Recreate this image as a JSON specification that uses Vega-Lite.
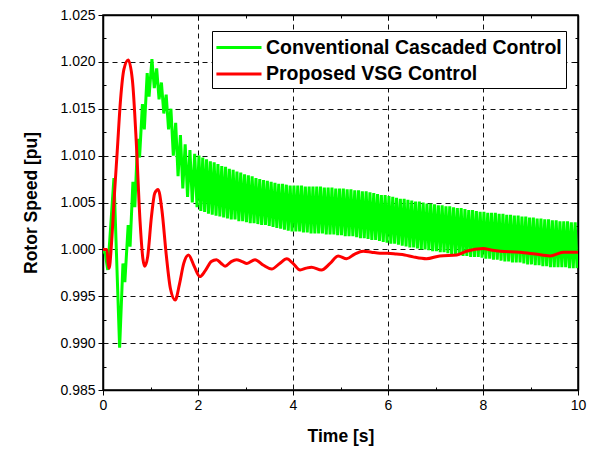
{
"$schema": "https://vega.github.io/schema/vega-lite/v6.json",
"width": 475, "height": 375,
"autosize": "none",
"padding": {"left": 103, "top": 15, "right": 17, "bottom": 64},
"background": "white",
"config": {"font": "Liberation Sans", "view": {"stroke": "black", "strokeWidth": 1.5}},
"datasets": {
"green": [
{"t":0,"v":1.0},{"t":0.05,"v":0.9995},{"t":0.1,"v":0.9978},{"t":0.23,"v":1.0076},{"t":0.35,"v":0.9895},
{"t":0.42,"v":0.9985},{"t":0.46,"v":0.9965},{"t":0.53,"v":1.0026},{"t":0.57,"v":1.0003},{"t":0.63,"v":1.0072},{"t":0.67,"v":1.0045},
{"t":0.73,"v":1.0118},{"t":0.77,"v":1.0098},{"t":0.83,"v":1.0155},{"t":0.87,"v":1.0128},{"t":0.93,"v":1.0188},{"t":0.97,"v":1.0163},
{"t":1.03,"v":1.0203},{"t":1.08,"v":1.0172},{"t":1.13,"v":1.0193},{"t":1.18,"v":1.016},{"t":1.23,"v":1.0178},{"t":1.28,"v":1.0145},
{"t":1.33,"v":1.0165},{"t":1.38,"v":1.0128},{"t":1.43,"v":1.015},{"t":1.48,"v":1.01},{"t":1.53,"v":1.0135},{"t":1.58,"v":1.0078},
{"t":1.63,"v":1.0122},{"t":1.68,"v":1.0065},{"t":1.73,"v":1.0112},{"t":1.78,"v":1.0056},{"t":1.83,"v":1.0106},{"t":1.88,"v":1.005},
{"t":1.93,"v":1.0102},{"t":1.98,"v":1.0045},
{"t":2.02,"v":1.01},{"t":2.06,"v":1.0041},{"t":2.1,"v":1.0098},{"t":2.14,"v":1.004},{"t":2.18,"v":1.0096},{"t":2.22,"v":1.0038},
{"t":2.26,"v":1.0094},{"t":2.3,"v":1.0037},{"t":2.34,"v":1.0093},{"t":2.38,"v":1.0036},{"t":2.42,"v":1.0091},{"t":2.46,"v":1.0035},
{"t":2.5,"v":1.0089},{"t":2.54,"v":1.0034},{"t":2.58,"v":1.0088},{"t":2.62,"v":1.0033},{"t":2.66,"v":1.0086},{"t":2.7,"v":1.0032},
{"t":2.74,"v":1.0085},{"t":2.78,"v":1.0032},{"t":2.82,"v":1.0083},{"t":2.86,"v":1.003},{"t":2.9,"v":1.0082},{"t":2.94,"v":1.003},
{"t":2.98,"v":1.008},{"t":3.02,"v":1.0029},{"t":3.06,"v":1.0079},{"t":3.1,"v":1.0028},{"t":3.14,"v":1.0078},{"t":3.18,"v":1.0028},
{"t":3.22,"v":1.0076},{"t":3.26,"v":1.0027},{"t":3.3,"v":1.0075},{"t":3.34,"v":1.0026},{"t":3.38,"v":1.0074},{"t":3.42,"v":1.0026},
{"t":3.46,"v":1.0073},{"t":3.5,"v":1.0025},{"t":3.54,"v":1.0072},{"t":3.58,"v":1.0024},{"t":3.62,"v":1.0071},{"t":3.66,"v":1.0023},
{"t":3.7,"v":1.007},{"t":3.74,"v":1.0022},{"t":3.78,"v":1.007},{"t":3.82,"v":1.0021},{"t":3.86,"v":1.0069},{"t":3.9,"v":1.002},
{"t":3.94,"v":1.0068},{"t":3.98,"v":1.0019},{"t":4.02,"v":1.0068},{"t":4.06,"v":1.0019},{"t":4.1,"v":1.0068},{"t":4.14,"v":1.0019},
{"t":4.18,"v":1.0068},{"t":4.22,"v":1.0018},{"t":4.26,"v":1.0067},{"t":4.3,"v":1.0018},{"t":4.34,"v":1.0067},{"t":4.38,"v":1.0017},
{"t":4.42,"v":1.0067},{"t":4.46,"v":1.0017},{"t":4.5,"v":1.0067},{"t":4.54,"v":1.0017},{"t":4.58,"v":1.0067},{"t":4.62,"v":1.0017},
{"t":4.66,"v":1.0066},{"t":4.7,"v":1.0016},{"t":4.74,"v":1.0066},{"t":4.78,"v":1.0016},{"t":4.82,"v":1.0066},{"t":4.86,"v":1.0016},
{"t":4.9,"v":1.0065},{"t":4.94,"v":1.0015},{"t":4.98,"v":1.0065},{"t":5.02,"v":1.0015},{"t":5.06,"v":1.0065},{"t":5.1,"v":1.0014},
{"t":5.14,"v":1.0064},{"t":5.18,"v":1.0014},{"t":5.22,"v":1.0064},{"t":5.26,"v":1.0014},{"t":5.3,"v":1.0063},{"t":5.34,"v":1.0013},
{"t":5.38,"v":1.0063},{"t":5.42,"v":1.0012},{"t":5.46,"v":1.0062},{"t":5.5,"v":1.0012},{"t":5.54,"v":1.0062},{"t":5.58,"v":1.0011},
{"t":5.62,"v":1.0061},{"t":5.66,"v":1.001},{"t":5.7,"v":1.006},{"t":5.74,"v":1.001},{"t":5.78,"v":1.0059},{"t":5.82,"v":1.0009},
{"t":5.86,"v":1.0058},{"t":5.9,"v":1.0008},{"t":5.94,"v":1.0058},{"t":5.98,"v":1.0007},{"t":6.02,"v":1.0057},{"t":6.06,"v":1.0006},
{"t":6.1,"v":1.0056},{"t":6.14,"v":1.0006},{"t":6.18,"v":1.0055},{"t":6.22,"v":1.0005},{"t":6.26,"v":1.0054},{"t":6.3,"v":1.0004},
{"t":6.34,"v":1.0054},{"t":6.38,"v":1.0003},{"t":6.42,"v":1.0053},{"t":6.46,"v":1.0002},{"t":6.5,"v":1.0052},{"t":6.54,"v":1.0002},
{"t":6.58,"v":1.0051},{"t":6.62,"v":1.0001},{"t":6.66,"v":1.0051},{"t":6.7,"v":1.0},{"t":6.74,"v":1.005},{"t":6.78,"v":1.0},
{"t":6.82,"v":1.0049},{"t":6.86,"v":0.9999},{"t":6.9,"v":1.0049},{"t":6.94,"v":0.9998},{"t":6.98,"v":1.0048},{"t":7.02,"v":0.9998},
{"t":7.06,"v":1.0047},{"t":7.1,"v":0.9997},{"t":7.14,"v":1.0047},{"t":7.18,"v":0.9997},{"t":7.22,"v":1.0046},{"t":7.26,"v":0.9996},
{"t":7.3,"v":1.0046},{"t":7.34,"v":0.9995},{"t":7.38,"v":1.0045},{"t":7.42,"v":0.9995},{"t":7.46,"v":1.0044},{"t":7.5,"v":0.9994},
{"t":7.54,"v":1.0044},{"t":7.58,"v":0.9993},{"t":7.62,"v":1.0043},{"t":7.66,"v":0.9993},{"t":7.7,"v":1.0042},{"t":7.74,"v":0.9992},
{"t":7.78,"v":1.0042},{"t":7.82,"v":0.9992},{"t":7.86,"v":1.0041},{"t":7.9,"v":0.9992},{"t":7.94,"v":1.004},{"t":7.98,"v":0.9991},
{"t":8.02,"v":1.004},{"t":8.06,"v":0.999},{"t":8.1,"v":1.0039},{"t":8.14,"v":0.999},{"t":8.18,"v":1.0039},{"t":8.22,"v":0.9989},
{"t":8.26,"v":1.0039},{"t":8.3,"v":0.9989},{"t":8.34,"v":1.0038},{"t":8.38,"v":0.9988},{"t":8.42,"v":1.0038},{"t":8.46,"v":0.9987},
{"t":8.5,"v":1.0037},{"t":8.54,"v":0.9987},{"t":8.58,"v":1.0037},{"t":8.62,"v":0.9986},{"t":8.66,"v":1.0036},{"t":8.7,"v":0.9986},
{"t":8.74,"v":1.0036},{"t":8.78,"v":0.9986},{"t":8.82,"v":1.0035},{"t":8.86,"v":0.9985},{"t":8.9,"v":1.0035},{"t":8.94,"v":0.9984},
{"t":8.98,"v":1.0034},{"t":9.02,"v":0.9984},{"t":9.06,"v":1.0034},{"t":9.1,"v":0.9983},{"t":9.14,"v":1.0033},{"t":9.18,"v":0.9983},
{"t":9.22,"v":1.0033},{"t":9.26,"v":0.9982},{"t":9.3,"v":1.0032},{"t":9.34,"v":0.9982},{"t":9.38,"v":1.0032},{"t":9.42,"v":0.9981},
{"t":9.46,"v":1.0031},{"t":9.5,"v":0.9981},{"t":9.54,"v":1.0031},{"t":9.58,"v":0.9981},{"t":9.62,"v":1.003},{"t":9.66,"v":0.9981},
{"t":9.7,"v":1.003},{"t":9.74,"v":0.9981},{"t":9.78,"v":1.003},{"t":9.82,"v":0.998},{"t":9.86,"v":1.0029},{"t":9.9,"v":0.998},
{"t":9.94,"v":1.0029},{"t":9.98,"v":0.998}
],
"red": [
{"t":0,"v":1.0},{"t":0.08,"v":1.0},{"t":0.11,"v":0.9985},{"t":0.13,"v":0.998},{"t":0.18,"v":1.0007},{"t":0.24,"v":1.0058},
{"t":0.3,"v":1.0105},{"t":0.37,"v":1.016},{"t":0.44,"v":1.0192},{"t":0.53,"v":1.0202},{"t":0.62,"v":1.018},{"t":0.7,"v":1.0115},
{"t":0.78,"v":1.003},{"t":0.84,"v":0.999},{"t":0.88,"v":0.9982},{"t":0.94,"v":0.9992},{"t":1.02,"v":1.0035},{"t":1.09,"v":1.006},
{"t":1.16,"v":1.0064},{"t":1.24,"v":1.0042},{"t":1.33,"v":0.9995},{"t":1.42,"v":0.9958},{"t":1.52,"v":0.9946},{"t":1.61,"v":0.9963},
{"t":1.7,"v":0.9985},{"t":1.8,"v":0.9994},{"t":1.92,"v":0.9982},{"t":2.04,"v":0.9971},{"t":2.15,"v":0.9977},{"t":2.28,"v":0.9987},
{"t":2.39,"v":0.9989},{"t":2.49,"v":0.9985},{"t":2.57,"v":0.9982},{"t":2.7,"v":0.9987},{"t":2.81,"v":0.9989},{"t":2.93,"v":0.9987},
{"t":3.03,"v":0.9985},{"t":3.2,"v":0.9989},{"t":3.38,"v":0.9983},{"t":3.55,"v":0.9979},{"t":3.72,"v":0.9985},{"t":3.87,"v":0.999},
{"t":4.0,"v":0.9985},{"t":4.15,"v":0.9978},{"t":4.28,"v":0.998},{"t":4.39,"v":0.9981},{"t":4.6,"v":0.9978},{"t":4.78,"v":0.9985},
{"t":4.95,"v":0.9993},{"t":5.13,"v":0.999},{"t":5.3,"v":0.9995},{"t":5.48,"v":0.9998},{"t":5.65,"v":0.9997},{"t":5.83,"v":0.9996},
{"t":6.0,"v":0.9996},{"t":6.18,"v":0.9995},{"t":6.35,"v":0.9994},{"t":6.53,"v":0.9992},{"t":6.81,"v":0.999},{"t":7.09,"v":0.9993},
{"t":7.45,"v":0.9994},{"t":7.65,"v":0.9998},{"t":8.0,"v":1.0001},{"t":8.2,"v":0.9999},{"t":8.36,"v":0.9998},{"t":8.78,"v":0.9997},
{"t":9.1,"v":0.9995},{"t":9.41,"v":0.9993},{"t":9.69,"v":0.9997},{"t":10,"v":0.9997}
]
},
"layer": [
{
"data": {"name": "green"},
"mark": {"type": "line", "strokeWidth": 3, "interpolate": "linear", "clip": true},
"encoding": {
"x": {"field": "t", "type": "quantitative", "scale": {"domain": [0, 10], "nice": false},
"axis": {"orient": "bottom", "title": "Time [s]", "titleFontSize": 17.5, "titleFontWeight": "bold", "titleColor": "black", "titlePadding": 15,
"values": [0,1,2,3,4,5,6,7,8,9,10],
"labelExpr": "datum.value % 2 === 0 ? datum.label : ''",
"labelFontSize": 14, "labelColor": "black", "labelPadding": 3, "labelFlush": false,
"tickColor": "black", "tickWidth": 1,
"tickSize": {"condition": {"test": "datum.value % 2 === 0", "value": 5}, "value": -3},
"domainColor": "black", "domainWidth": 1.5,
"grid": true, "gridColor": "#111111", "gridDash": [5, 4], "gridWidth": 1,
"gridOpacity": {"condition": {"test": "datum.value % 2 === 0 && datum.value > 0 && datum.value < 10", "value": 1}, "value": 0}}},
"y": {"field": "v", "type": "quantitative", "scale": {"domain": [0.985, 1.025], "nice": false, "zero": false},
"axis": {"orient": "left", "title": "Rotor Speed [pu]", "titleFontSize": 17.5, "titleFontWeight": "bold", "titleColor": "black", "titlePadding": 19,
"values": [0.985,0.9875,0.99,0.9925,0.995,0.9975,1.0,1.0025,1.005,1.0075,1.01,1.0125,1.015,1.0175,1.02,1.0225,1.025],
"labelExpr": "round(datum.value*1000) % 5 === 0 ? format(datum.value, '.3f') : ''",
"labelFontSize": 14, "labelColor": "black", "labelPadding": 3, "labelFlush": false,
"tickColor": "black", "tickWidth": 1,
"tickSize": {"condition": {"test": "round(datum.value*1000) % 5 === 0", "value": 5}, "value": -3},
"domainColor": "black", "domainWidth": 1.5,
"grid": true, "gridColor": "#111111", "gridDash": [5, 4], "gridWidth": 1,
"gridOpacity": {"condition": {"test": "round(datum.value*1000) % 5 === 0 && datum.value > 0.986 && datum.value < 1.024", "value": 1}, "value": 0}}},
"color": {"datum": "Conventional Cascaded Control", "type": "nominal",
"scale": {"domain": ["Conventional Cascaded Control", "Proposed VSG Control"], "range": ["#00ff00", "#ff0000"]},
"legend": {"orient": "none", "legendX": 109, "legendY": 16, "title": null,
"strokeColor": "black", "fillColor": "white", "padding": 4,
"symbolType": "M-1.1,0H3", "symbolSize": 484, "symbolStrokeWidth": 3,
"labelFont": "Liberation Sans", "labelFontSize": 19.5, "labelFontWeight": "bold", "labelColor": "black", "labelLimit": 500,
"rowPadding": 4.5, "labelOffset": 25}}
}
},
{
"data": {"name": "red"},
"mark": {"type": "line", "strokeWidth": 3, "interpolate": "monotone", "clip": true},
"encoding": {
"x": {"field": "t", "type": "quantitative",
"axis": {"orient": "top", "title": null, "labels": false, "values": [0,1,2,3,4,5,6,7,8,9,10],
"tickColor": "black", "tickWidth": 1,
"tickSize": {"condition": {"test": "datum.value % 2 === 0", "value": -5}, "value": -3},
"domainColor": "black", "domainWidth": 1.5, "grid": false}},
"y": {"field": "v", "type": "quantitative",
"axis": {"orient": "right", "title": null, "labels": false,
"values": [0.985,0.9875,0.99,0.9925,0.995,0.9975,1.0,1.0025,1.005,1.0075,1.01,1.0125,1.015,1.0175,1.02,1.0225,1.025],
"tickColor": "black", "tickWidth": 1,
"tickSize": {"condition": {"test": "round(datum.value*1000) % 5 === 0", "value": -5}, "value": -3},
"domainColor": "black", "domainWidth": 1.5, "grid": false}},
"color": {"datum": "Proposed VSG Control", "type": "nominal"}
}
}
],
"resolve": {"axis": {"x": "independent", "y": "independent"}}
}
